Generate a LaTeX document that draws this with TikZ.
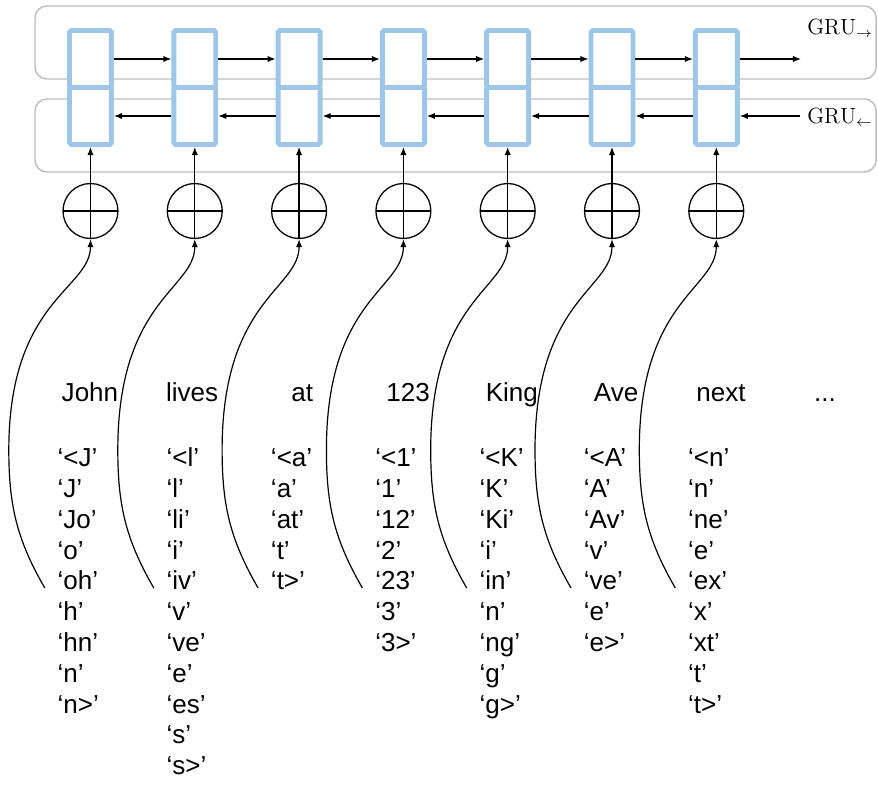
\documentclass[tikz,border=0pt]{standalone}
\usepackage{fontspec}
\newfontfamily\tokfont{Liberation Sans}
\usetikzlibrary{arrows.meta}
\definecolor{GRblue}{RGB}{159,197,232}
\definecolor{GRgray}{RGB}{190,190,190}
\tikzset{
  lane/.style={draw=GRgray,line width=0.8pt,rounded corners=6.5pt},
  gcell/.style={draw=GRblue,fill=white,line width=2.7pt,rounded corners=1pt,
                minimum width=0.805cm,minimum height=1.093cm,inner sep=0pt},
  sumnode/.style={circle,draw,line width=0.7pt,minimum size=1.054cm,inner sep=0pt,
                path picture={\draw[line width=0.7pt]
                  (path picture bounding box.north) -- (path picture bounding box.south)
                  (path picture bounding box.west) -- (path picture bounding box.east);}},
  fl/.style={-{Latex[length=4.4pt,width=3.4pt]},line width=0.65pt},
  word/.style={font=\tokfont\fontsize{14.2}{16.8}\selectfont,anchor=base,inner sep=0pt},
  subw/.style={font=\tokfont\fontsize{14.2}{16.8}\selectfont,anchor=base west,inner sep=0pt},
  gru/.style={font=\fontsize{12}{14}\selectfont,anchor=base west,inner sep=0pt}
}

\begin{document}
\begin{tikzpicture}
  \useasboundingbox (0,0) rectangle (16.836,-15.072);
  % the two GRU lanes
  \draw[lane] (0.671,-0.115) rectangle (16.80,-1.515);
  \draw[lane] (0.671,-1.898) rectangle (16.80,-3.298);
  \node[gru] (gf) at (15.474,-0.658) {$\mathrm{GRU}_{\rightarrow}$};
  \node[gru] (gb) at (15.474,-2.362) {$\mathrm{GRU}_{\leftarrow}$};
  % cells and sums
  \foreach \i in {0,...,6}{
    \node[gcell] (f\i) at (1.735+2*\i,-1.131) {};
    \node[gcell] (b\i) at (1.735+2*\i,-2.224) {};
    \node[sumnode] (c\i) at (1.735+2*\i,-4.046) {};
    \draw[fl] (c\i.north) -- (b\i.south);
  }
  \foreach \i [evaluate=\i as \j using int(\i+1)] in {0,...,5}{
    \draw[fl] (f\i) -- (f\j);
    \draw[fl] (b\j) -- (b\i);
  }
  \coordinate (fend) at (15.36,-1.131);
  \coordinate (bin) at (15.34,-2.224);
  \draw[fl] (f6) -- (fend);
  \draw[fl] (bin) -- (b6);
  % words and their character n-grams
  \foreach \w/\subs/\dx/\wx [count=\i from 0] in {
      John/{‘<J’,‘J’,‘Jo’,‘o’,‘oh’,‘h’,‘hn’,‘n’,‘n>’}/-0.09/0.08,
      lives/{‘<l’,‘l’,‘li’,‘i’,‘iv’,‘v’,‘ve’,‘e’,‘es’,‘s’,‘s>’}/0/-0.05,
      at/{‘<a’,‘a’,‘at’,‘t’,‘t>’}/0/0.06,
      123/{‘<1’,‘1’,‘12’,‘2’,‘23’,‘3’,‘3>’}/0/0.09,
      King/{‘<K’,‘K’,‘Ki’,‘i’,‘in’,‘n’,‘ng’,‘g’,‘g>’}/0/0.08,
      Ave/{‘<A’,‘A’,‘Av’,‘v’,‘ve’,‘e’,‘e>’}/0/0.08,
      next/{‘<n’,‘n’,‘ne’,‘e’,‘ex’,‘x’,‘xt’,‘t’,‘t>’}/0/0.09}{
    \pgfmathsetmacro\x{1.735+2*\i+\dx}
    \node[word] (w\i) at (\x+\wx,-7.708) {\w};
    \foreach \s [count=\k from 0] in \subs
      \node[subw] (n\i-\k) at (\x-0.546,-8.949-0.5906*\k) {\s};
    \coordinate (s\i) at (\x-0.786,-11.275);
    \coordinate (m\i) at (\x-1.476,-8.629);
    \draw[fl] (s\i) to[out=120,in=-90] (m\i) .. controls +(0,2.88) and +(0,-0.96) .. (c\i.south);
  }
  \node[word] (more) at (15.82,-7.708) {...};
\end{tikzpicture}
\end{document}
